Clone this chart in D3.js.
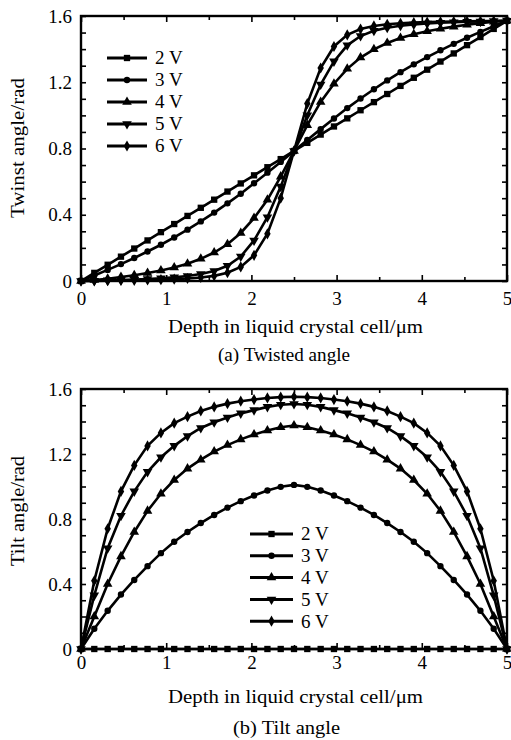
<!DOCTYPE html>
<html><head><meta charset="utf-8">
<script src="https://cdn.jsdelivr.net/npm/d3@7"></script>
<style>
body{margin:0;background:#fff}
svg{display:block}
text{font-family:"Liberation Serif","Times New Roman",serif;fill:#000}
</style>
</head><body>
<svg id="c" width="511" height="740"></svg>
<script>
// ---------- data ----------
const depth=[0,0.156,0.313,0.469,0.625,0.781,0.938,1.094,1.25,1.406,1.563,1.719,1.875,2.031,2.188,2.344,2.5,
  2.656,2.813,2.969,3.125,3.281,3.438,3.594,3.75,3.906,4.063,4.219,4.375,4.531,4.688,4.844,5];
const seriesNames=["2 V","3 V","4 V","5 V","6 V"];

const twist2V=[0,.049,.098,.147,.196,.245,.295,.344,.393,.442,.491,.540,.589,.638,.687,.736,.785,
  .834,.884,.933,.982,1.031,1.080,1.129,1.178,1.227,1.276,1.325,1.374,1.424,1.473,1.522,1.571];
const twist3V=[0,.033,.067,.102,.139,.178,.219,.263,.310,.360,.413,.469,.527,.590,.654,.719,.785,
  .852,.917,.981,1.044,1.102,1.158,1.211,1.261,1.308,1.352,1.393,1.432,1.469,1.504,1.538,1.571];
const twist4V=[0,.006,.014,.024,.035,.048,.063,.081,.104,.134,.172,.222,.290,.380,.490,.630,.785,
  .941,1.081,1.191,1.281,1.349,1.399,1.437,1.467,1.490,1.508,1.523,1.536,1.547,1.557,1.565,1.571];
const twist5V=[0,.002,.004,.006,.009,.012,.016,.022,.030,.042,.060,.092,.148,.245,.385,.570,.785,
  1.001,1.186,1.326,1.423,1.479,1.511,1.529,1.541,1.549,1.555,1.559,1.562,1.565,1.567,1.569,1.571];
const twist6V=[0,.001,.002,.003,.004,.006,.008,.011,.015,.021,.031,.050,.085,.155,.285,.500,.785,
  1.071,1.286,1.416,1.486,1.521,1.540,1.550,1.556,1.560,1.563,1.565,1.567,1.568,1.569,1.570,1.571];

const tilt2V=[0,0,0,0,0,0,0,0,0,0,0,0,0,0,0,0,0,0,0,0,0,0,0,0,0,0,0,0,0,0,0,0,0];
const tilt3V=[0,.125,.235,.335,.425,.51,.59,.66,.72,.775,.825,.87,.91,.945,.975,.998,1.01,
  .998,.975,.945,.91,.87,.825,.775,.72,.66,.59,.51,.425,.335,.235,.125,0];
const tilt4V=[0,.20,.40,.57,.72,.85,.955,1.04,1.11,1.165,1.215,1.255,1.29,1.32,1.345,1.365,1.375,
  1.365,1.345,1.32,1.29,1.255,1.215,1.165,1.11,1.04,.955,.85,.72,.57,.40,.20,0];
const tilt5V=[0,.33,.62,.82,.97,1.09,1.18,1.25,1.31,1.36,1.395,1.425,1.45,1.47,1.49,1.503,1.508,
  1.503,1.49,1.47,1.45,1.425,1.395,1.36,1.31,1.25,1.18,1.09,.97,.82,.62,.33,0];
const tilt6V=[0,.42,.74,.97,1.13,1.25,1.33,1.39,1.43,1.465,1.49,1.51,1.525,1.535,1.545,1.55,1.552,
  1.55,1.545,1.535,1.525,1.51,1.49,1.465,1.43,1.39,1.33,1.25,1.13,.97,.74,.42,0];

const yTickLabels=[0,0.4,0.8,1.2,1.6];
const xTickLabels=[0,1,2,3,4,5];

// ---------- drawing ----------
const svg=d3.select("#c");
const FS=19;
const triDown={draw(ctx,size){
  const side=Math.sqrt(4*size/Math.sqrt(3)), h=side*Math.sqrt(3)/2;
  ctx.moveTo(0,h*2/3);ctx.lineTo(side/2,-h/3);ctx.lineTo(-side/2,-h/3);ctx.closePath();}};
const symTypes=[d3.symbolSquare,d3.symbolCircle,d3.symbolTriangle,triDown,d3.symbolDiamond];
const symSizes=[40,32,40,40,36];

function panel(cfg){
  const x=d3.scaleLinear().domain([0,5]).range([cfg.left,cfg.right]);
  const y=d3.scaleLinear().domain([0,1.6]).range([cfg.bottom,cfg.top]);
  const g=svg.append("g");

  const tk=(sel)=>sel.call(s=>s.select(".domain").remove()).selectAll("line").attr("stroke","#000").attr("stroke-width",1.6);
  g.append("g").attr("transform",`translate(${cfg.left},0)`).call(d3.axisLeft(y).ticks(16).tickSize(-5).tickFormat("")).call(tk);
  g.append("g").attr("transform",`translate(${cfg.right},0)`).call(d3.axisRight(y).ticks(16).tickSize(-5).tickFormat("")).call(tk);
  g.append("g").attr("transform",`translate(0,${cfg.bottom})`).call(d3.axisBottom(x).tickValues(xTickLabels).tickSize(-6).tickFormat("")).call(tk);
  g.append("g").attr("transform",`translate(0,${cfg.top})`).call(d3.axisTop(x).tickValues(xTickLabels).tickSize(-6).tickFormat("")).call(tk);
  const halfs=[0.5,1.5,2.5,3.5,4.5];
  g.append("g").attr("transform",`translate(0,${cfg.bottom})`).call(d3.axisBottom(x).tickValues(halfs).tickSize(-4).tickFormat("")).call(tk);
  g.append("g").attr("transform",`translate(0,${cfg.top})`).call(d3.axisTop(x).tickValues(halfs).tickSize(-4).tickFormat("")).call(tk);

  const yl=g.append("g").attr("transform",`translate(${cfg.left},0)`)
    .call(d3.axisLeft(y).tickValues(yTickLabels).tickSize(0).tickPadding(9).tickFormat(d=>d===0?"0":d3.format(".1f")(d)));
  yl.select(".domain").remove();
  yl.selectAll("text").attr("font-size",FS).attr("font-family","Liberation Serif").attr("fill","#000");
  const xl=g.append("g").attr("transform",`translate(0,${cfg.bottom})`)
    .call(d3.axisBottom(x).tickValues(xTickLabels).tickSize(0).tickPadding(cfg.xpad).tickFormat(d3.format("d")));
  xl.select(".domain").remove();
  xl.selectAll("text").attr("font-size",FS).attr("font-family","Liberation Serif").attr("fill","#000");

  const line=d3.line().x((d,i)=>x(depth[i])).y(d=>y(d));
  cfg.series.forEach((vals,k)=>{
    g.append("path").datum(vals).attr("d",line).attr("fill","none").attr("stroke","#000").attr("stroke-width",2.6);
    g.append("g").selectAll("path").data(vals).join("path")
      .attr("transform",(d,i)=>`translate(${x(depth[i])},${y(d)})`)
      .attr("d",d3.symbol().type(symTypes[k]).size(symSizes[k])).attr("fill","#000");
  });

  g.append("rect").attr("x",cfg.left).attr("y",cfg.top).attr("width",cfg.right-cfg.left).attr("height",cfg.bottom-cfg.top)
    .attr("fill","none").attr("stroke","#000").attr("stroke-width",2.4);

  const lg=g.append("g");
  seriesNames.forEach((n,k)=>{
    const yy=cfg.legY+k*cfg.legDy;
    lg.append("line").attr("x1",cfg.legX).attr("x2",cfg.legX+cfg.legW).attr("y1",yy).attr("y2",yy).attr("stroke","#000").attr("stroke-width",3);
    lg.append("path").attr("transform",`translate(${cfg.legX+cfg.legW/2},${yy})`)
      .attr("d",d3.symbol().type(symTypes[k]).size(symSizes[k])).attr("fill","#000");
    lg.append("text").attr("x",cfg.legX+cfg.legW+8).attr("y",yy).attr("dy","0.34em").attr("font-size",FS).text(n);
  });

  g.append("text").attr("transform",`translate(${cfg.yLabX},${cfg.yLabY}) rotate(-90)`).attr("text-anchor","middle")
    .attr("font-size",FS).attr("textLength",cfg.yLabW).attr("lengthAdjust","spacingAndGlyphs").text(cfg.yLabel);
  g.append("text").attr("x",295.5).attr("y",cfg.xLabY).attr("text-anchor","middle").attr("font-size",FS)
    .attr("textLength",255).attr("lengthAdjust","spacingAndGlyphs").text("Depth in liquid crystal cell/\u03bcm");
  g.append("text").attr("x",cfg.capX).attr("y",cfg.capY).attr("text-anchor","middle").attr("font-size",FS)
    .attr("textLength",cfg.capW).attr("lengthAdjust","spacingAndGlyphs").text(cfg.caption);
}

panel({left:81,right:507,top:16,bottom:281,xpad:11,
  series:[twist2V,twist3V,twist4V,twist5V,twist6V],
  legX:107,legW:40,legY:58,legDy:22,
  yLabel:"Twinst angle/rad",yLabX:24,yLabY:148,yLabW:140,
  xLabY:333,caption:"(a) Twisted angle",capX:284,capY:361,capW:132});

panel({left:81,right:507,top:389,bottom:649,xpad:7,
  series:[tilt2V,tilt3V,tilt4V,tilt5V,tilt6V],
  legX:250,legW:43,legY:534,legDy:21.8,
  yLabel:"Tilt angle/rad",yLabX:24,yLabY:511,yLabW:110,
  xLabY:703,caption:"(b) Tilt angle",capX:286.5,capY:734,capW:107});
</script>
</body></html>
